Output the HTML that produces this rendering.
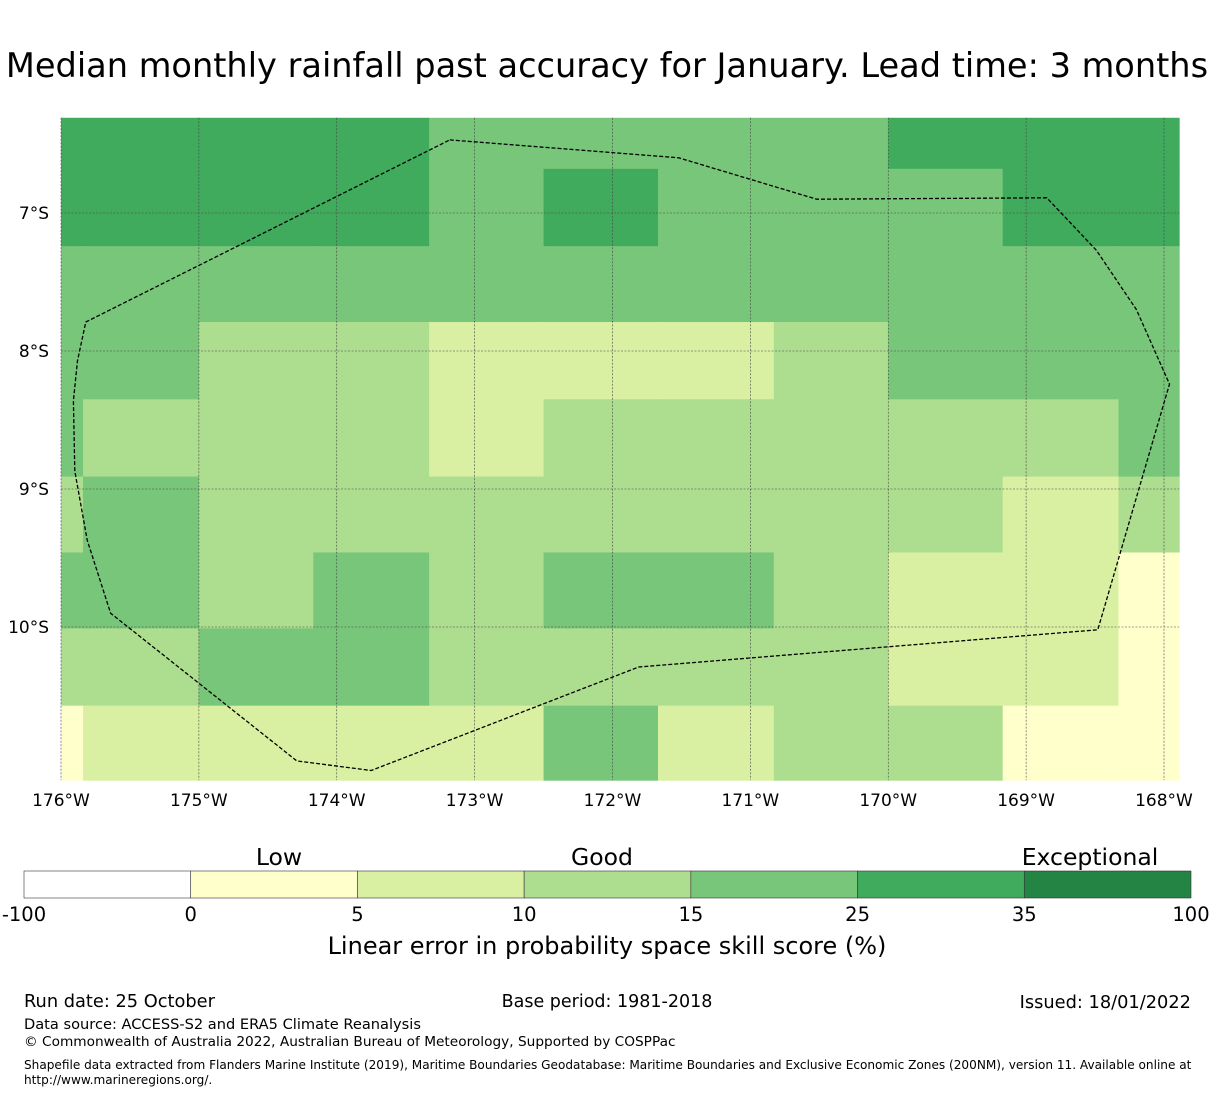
<!DOCTYPE html>
<html><head><meta charset="utf-8">
<style>
body{margin:0;background:#fff;font-family:"Liberation Sans","DejaVu Sans",sans-serif;}
svg text{font-family:"DejaVu Sans","Liberation Sans",sans-serif;}
</style></head>
<body>
<svg id="chart" width="1215" height="1095" viewBox="0 0 1215 1095" xmlns="http://www.w3.org/2000/svg">
<text x="607" y="77" font-size="33.6" text-anchor="middle">Median monthly rainfall past accuracy for January. Lead time: 3 months</text>
<g id="cells"></g>
<g id="grid"></g>
<g id="eez"></g>
<g id="axes"></g>
<g id="cbar"></g>
<text x="279" y="865" font-size="23.5" text-anchor="middle">Low</text>
<text x="602" y="865" font-size="23.5" text-anchor="middle">Good</text>
<text x="1090" y="865" font-size="23.5" text-anchor="middle">Exceptional</text>
<text x="607" y="954" font-size="24" text-anchor="middle">Linear error in probability space skill score (%)</text>
<text x="24" y="1007" font-size="17.8">Run date: 25 October</text>
<text x="607" y="1007" font-size="17.5" text-anchor="middle">Base period: 1981-2018</text>
<text x="1191" y="1008" font-size="17.8" text-anchor="end">Issued: 18/01/2022</text>
<text x="24" y="1029" font-size="14.6">Data source: ACCESS-S2 and ERA5 Climate Reanalysis</text>
<text x="24" y="1046" font-size="13.7">© Commonwealth of Australia 2022, Australian Bureau of Meteorology, Supported by COSPPac</text>
<text x="24" y="1069" font-size="12.1">Shapefile data extracted from Flanders Marine Institute (2019), Maritime Boundaries Geodatabase: Maritime Boundaries and Exclusive Economic Zones (200NM), version 11. Available online at</text>
<text x="24" y="1084" font-size="12.1">http://www.marineregions.org/.</text>
</svg>
<script>
// Data
const lonEdges = [-176, -175.84, -175.0, -174.17, -173.33, -172.5, -171.67, -170.83, -170.0, -169.17, -168.33, -167.89];
const latEdges = [-6.31, -6.68, -7.24, -7.79, -8.35, -8.91, -9.46, -10.01, -10.57, -11.11];
const skill = [
 [30,30,30,30,20,20,20,20,30,30,30],
 [30,30,30,30,20,30,20,20,20,30,30],
 [20,20,20,20,20,20,20,20,20,20,20],
 [20,20,12,12,7,7,7,12,20,20,20],
 [20,12,12,12,7,12,12,12,12,12,20],
 [12,20,12,12,12,12,12,12,12,7,12],
 [20,20,12,20,12,20,20,12,7,7,2],
 [12,12,20,20,12,12,12,12,7,7,2],
 [2,7,7,7,7,20,7,12,12,2,2]
];
const binEdges = [-100, 0, 5, 10, 15, 25, 35, 100];
const binColors = ["#ffffff","#ffffcc","#d9f0a3","#addd8e","#78c679","#41ab5d","#238443"];
const lonTicks = [-176,-175,-174,-173,-172,-171,-170,-169,-168];
const latTicks = [-7,-8,-9,-10];
const eezLon = [-173.18,-171.52,-170.52,-168.85,-168.49,-168.2,-167.96,-168.48,-171.81,-173.75,-174.29,-175.64,-175.81,-175.9,-175.91,-175.88,-175.82,-173.18];
const eezLat = [-6.47,-6.6,-6.9,-6.89,-7.27,-7.7,-8.24,-10.02,-10.29,-11.04,-10.97,-9.9,-9.37,-8.87,-8.36,-8.07,-7.79,-6.47];

const NS="http://www.w3.org/2000/svg";
const X0=61, PXD=137.875, Y7=213, PYD=138;
const xs = lon => X0 + (lon+176)*PXD;
const ys = lat => Y7 + (-7-lat)*PYD;
function colorFor(v){for(let i=0;i<binColors.length;i++){if(v<binEdges[i+1])return binColors[i];}return binColors[binColors.length-1];}
function mk(tag,attrs,parent){const e=document.createElementNS(NS,tag);for(const k in attrs)e.setAttribute(k,attrs[k]);parent.appendChild(e);return e;}

const cells=document.getElementById('cells');
skill.forEach((row,r)=>row.forEach((v,c)=>{
  const x1=xs(lonEdges[c]), x2=xs(lonEdges[c+1]), y1=ys(latEdges[r]), y2=ys(latEdges[r+1]);
  const el=mk('rect',{x:x1,y:y1,width:x2-x1+0.5,height:y2-y1+0.5,fill:colorFor(v)},cells);
  
  
}));

const grid=document.getElementById('grid');
const axes=document.getElementById('axes');
const mx1=xs(lonEdges[0]), mx2=xs(lonEdges[lonEdges.length-1]), my1=ys(latEdges[0]), my2=ys(latEdges[latEdges.length-1]);
lonTicks.forEach(l=>{
  const x=xs(l);
  const g=mk('line',{x1:x,x2:x,y1:my1,y2:my2,stroke:'#444','stroke-width':0.6,'stroke-dasharray':'2,1.5'},grid);
  
  
  const t=mk('text',{x:x,y:806,'font-size':17,'text-anchor':'middle'},axes);
  t.textContent=Math.abs(l)+'°W';
  
  
});
latTicks.forEach(l=>{
  const y=ys(l);
  const g=mk('line',{x1:mx1,x2:mx2,y1:y,y2:y,stroke:'#444','stroke-width':0.6,'stroke-dasharray':'2,1.5'},grid);
  
  
  const t=mk('text',{x:49,y:y+6,'font-size':17,'text-anchor':'end'},axes);
  t.textContent=Math.abs(l)+'°S';
  
  
});

const eez=document.getElementById('eez');
const pts=eezLon.map((l,i)=>xs(l).toFixed(1)+','+ys(eezLat[i]).toFixed(1)).join(' ');
const pl=mk('polyline',{points:pts,fill:'none',stroke:'#000','stroke-width':1.3,'stroke-dasharray':'4,2'},eez);



const cbar=document.getElementById('cbar');
const cx0=24, cx1=1191, cy=871, ch=27, sw=(cx1-cx0)/binColors.length;
binColors.forEach((c,i)=>{
  const r=mk('rect',{x:cx0+i*sw,y:cy,width:sw,height:ch,fill:c,stroke:'#333','stroke-width':0.6},cbar);
  
  
});
binEdges.forEach((v,i)=>{
  const t=mk('text',{x:cx0+i*sw,y:921,'font-size':19.5,'text-anchor':'middle'},cbar);
  t.textContent=v;
  
  
});
</script>
</body></html>
